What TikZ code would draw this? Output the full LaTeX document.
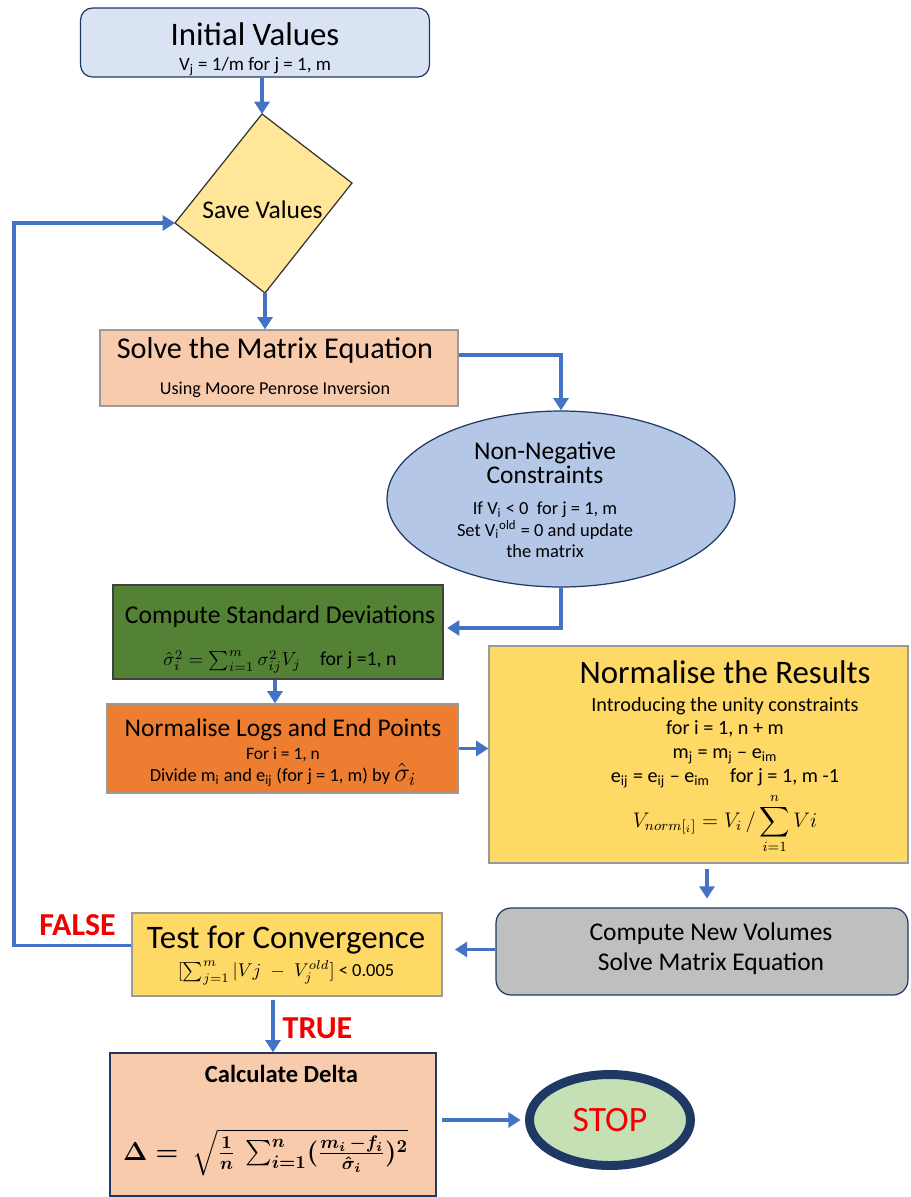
\RequirePackage{fix-cm}
\documentclass[tikz,border=0pt]{standalone}
\usepackage{amsmath}
\usepackage{fontspec}
\setmainfont{Carlito}
\usetikzlibrary{arrows.meta, shapes.geometric, calc, positioning}

\definecolor{flowblue}{HTML}{4472C4}
\definecolor{navy}{HTML}{203864}
\definecolor{edgegray}{HTML}{9A9A9A}
\definecolor{initfill}{HTML}{DAE3F3}
\definecolor{savefill}{HTML}{FFE699}
\definecolor{peach}{HTML}{F8CBAD}
\definecolor{nnfill}{HTML}{B4C7E7}
\definecolor{stdfill}{HTML}{548235}
\definecolor{logfill}{HTML}{ED7D31}
\definecolor{gold}{HTML}{FFD966}
\definecolor{volfill}{HTML}{BFBFBF}
\definecolor{stopfill}{HTML}{C5E0B4}
\definecolor{alarm}{HTML}{F00000}

\newcommand{\fs}[1]{\fontsize{#1}{#1}\selectfont}
\newcommand{\txtsize}[2]{\fontsize{#1}{#2}\selectfont\lineskiplimit=-100pt\lineskip=0pt}
\newsavebox{\deltabox}

\begin{document}
\sbox{\deltabox}{\fs{14.8}\boldmath$\Delta =\ \sqrt{\frac{1}{n}\,\sum_{i=1}^{n}(\frac{m_i\,-f_i}{\hat{\sigma}_i})^{2}}$}%
\begin{tikzpicture}[x=0.02cm, y=-0.02cm, >={Triangle[length=7pt,width=8.5pt]},
    flow/.style={->, draw=flowblue, line width=2.2pt},
    block/.style={rectangle, draw=#1, line width=0.7pt, inner sep=0pt},
    block/.default=edgegray,
    txt/.style={align=center, inner sep=0pt},
    flag/.style={text=alarm, font=\bfseries\fs{18.2}, anchor=base}]
\useasboundingbox (0,0) rectangle (910,1197);

\node[block=navy, rounded corners=0.24cm, fill=initfill, minimum width=6.98cm, minimum height=1.38cm] at (255,42.5) (init_val) {};
\node[txt, font=\txtsize{10.8}{14.6}] at (255,49) (init_val_txt)
    {{\fs{18.7}Initial Values}\\V\textsubscript{j} = 1/m for j = 1, m};

\filldraw[fill=savefill, draw=black!80, line width=0.7pt] (262,114) coordinate (sv_top) -- (352,183) coordinate (sv_right)
    -- (265,293) coordinate (sv_bottom) -- (175,223) coordinate (sv_left) -- cycle;
\node[anchor=base, font=\fs{14.5}] at (262.5,218) (save_val) {Save Values};

\node[block, fill=peach, minimum width=7.16cm, minimum height=1.52cm] at (279,368) (solve_mat) {};
\node[txt, font=\txtsize{10.35}{20.4}] at (275,367.5) (solve_mat_txt)
    {{\fs{17.2}Solve the Matrix Equation}\\Using Moore Penrose Inversion};

\node[ellipse, draw=navy, line width=0.7pt, fill=nnfill, minimum width=6.96cm, minimum height=3.52cm, inner sep=0pt] at (561,499) (non_neg) {};
\node[txt, font=\txtsize{10.5}{12.3}] at (545,500) (non_neg_txt)
    {{\fs{14.5}Non-Negative}\\[1.5pt]{\fs{14.5}Constraints}\\[5.1pt]
     If V\textsubscript{i} < 0 \ for j = 1, m\\
     Set V\textsubscript{i}\textsuperscript{old} = 0 and update\\
     the matrix};

\node[block=black!75, fill=stdfill, minimum width=6.6cm, minimum height=1.88cm] at (278,632) (std_dev) {};
\node[txt, font=\txtsize{11.3}{24.3}] at (280,639.5) (std_dev_txt)
    {{\fs{14.6}Compute Standard Deviations}\\
     {\fs{10.8}$\hat{\sigma}_i^2 = \sum_{i=1}^{m}\sigma_{ij}^2V_j$}\hspace{11pt}for j =1, n};

\node[block, fill=logfill, minimum width=7.02cm, minimum height=1.78cm] at (282.5,748.5) (norm_logs) {};
\node[txt, font=\txtsize{10.5}{12.3}] at (283,752.5) (norm_logs_txt)
    {{\fs{14.5}Normalise Logs and End Points}\\[0.9pt]
     {\fs{9.9}For i = 1, n}\\
     Divide m\textsubscript{i} and e\textsubscript{ij} (for j = 1, m) by {\fs{15}$\hat{\sigma}_i$}};

\node[block, fill=gold, minimum width=8.38cm, minimum height=4.34cm] at (698.5,754.5) (norm_res) {};
\node[txt, font=\txtsize{11.5}{13.6}] at (725,757.5) (norm_res_txt)
    {{\fs{18.7}Normalise the Results}\\[1.9pt]
     Introducing the unity constraints\\
     for i = 1, n + m\\
     m\textsubscript{j} = m\textsubscript{j} – e\textsubscript{im}\\
     e\textsubscript{ij} = e\textsubscript{ij} – e\textsubscript{im}\quad for j = 1, m -1\\[11.9pt]
     {\fs{12}$\displaystyle V_{norm[_{i}]} = V_i \,/ \sum_{i=1}^{n} Vi$}};

\node[block=navy, rounded corners=0.3cm, fill=volfill, minimum width=8.24cm, minimum height=1.74cm] at (702,951.5) (new_vol) {};
\node[txt, font=\txtsize{14.5}{17}] at (711,948.3) (new_vol_txt)
    {Compute New Volumes\\Solve Matrix Equation};

\node[block, fill=gold, minimum width=6.2cm, minimum height=1.66cm] at (287,954.5) (test_conv) {};
\node[txt, font=\txtsize{10.5}{16}] at (286,955.2) (test_conv_txt)
    {{\fs{18.7}Test for Convergence}\\
     $[\sum_{j=1}^{m}|Vj\;-\;V_j^{old}]$ < 0.005};

\node[block=navy, fill=peach, minimum width=6.52cm, minimum height=2.86cm] at (273,1124.5) (calc_delta) {};
\node[anchor=base, font=\bfseries\fs{14}] at (281.5,1082.7) (delta_title) {Calculate Delta};
\node[anchor=base] at (265.5,1160) (delta_eq) {\usebox{\deltabox}};

\node[ellipse, draw=navy, line width=5.1pt, fill=stopfill, minimum width=3.22cm, minimum height=1.82cm, text=alarm, font=\fs{20.3}] at (610,1120) (stop_end) {STOP};

\node[flag] at (77.5,935) (false_lbl) {FALSE};
\node[flag] at (317.5,1038.3) (true_lbl) {TRUE};

\draw[flow] (sv_top |- init_val.south) -- (sv_top);
\draw[flow] (sv_bottom) -- (sv_bottom |- solve_mat.north);
\draw[flow] ($(solve_mat.east)+(0,-13)$) -| (non_neg.north);
\draw[flow, shorten >=2pt] (non_neg.south) |- ($(std_dev.east)+(0,-4)$);
\draw[flow] (std_dev.south -| 275,0) -- (norm_logs.north -| 275,0);
\draw[flow] (norm_logs.east) -- (norm_logs.east -| norm_res.west);
\draw[flow, shorten <=3pt, shorten >=5pt] (norm_res.south -| 707,0) -- (new_vol.north -| 707,0);
\draw[flow, shorten >=7pt] ($(new_vol.west)+(0,-2)$) -- ($(new_vol.west -| test_conv.east)+(0,-2)$);
\draw[flow] ($(test_conv.west)+(0,-9)$) -- ++(-117,0) |- (sv_left);
\draw[flow, shorten <=2pt] (test_conv.south -| calc_delta.north) -- (calc_delta.north);
\draw[flow, shorten <=3pt, shorten >=2.5pt] (calc_delta.east |- stop_end.west) -- (stop_end.west);
\end{tikzpicture}
\end{document}
